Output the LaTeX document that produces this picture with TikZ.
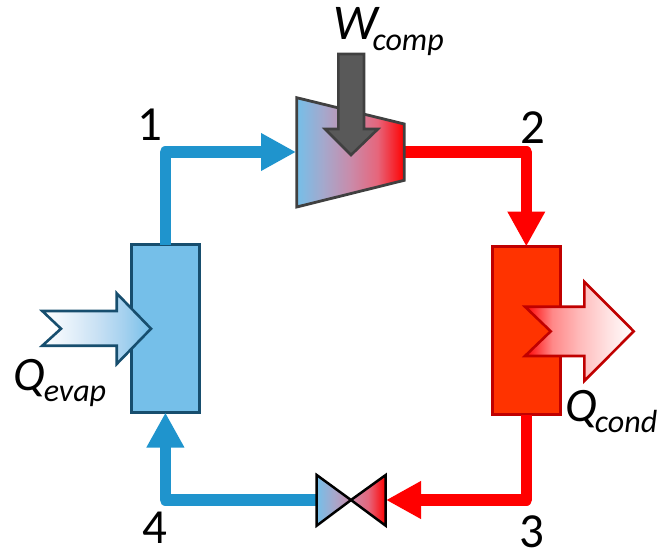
\documentclass[tikz,border=0pt]{standalone}
\usepackage{fontspec}
\setmainfont{Carlito}
\usetikzlibrary{arrows.meta}
\definecolor{pipeblue}{HTML}{1F94CD}
\definecolor{lightblue}{HTML}{75BFE9}
\definecolor{darkblue}{HTML}{174E6E}
\definecolor{condred}{HTML}{FF3300}
\definecolor{darkred}{HTML}{C00000}
\definecolor{pipered}{HTML}{FF0000}
\definecolor{workfill}{HTML}{595959}
\definecolor{workline}{HTML}{404040}
\definecolor{mixA}{HTML}{A5A8CC}
\definecolor{mixB}{HTML}{C98BAA}
\definecolor{mixC}{HTML}{E6667C}
\definecolor{coolA}{HTML}{E6F1FA}
\definecolor{coolB}{HTML}{C9E1F4}
\definecolor{coolC}{HTML}{A5D1EF}
\definecolor{hotA}{HTML}{FF8888}
\definecolor{hotB}{HTML}{FFBABA}
\definecolor{hotC}{HTML}{FFE0E0}
\pgfdeclarehorizontalshading{bluered}{100bp}{color(0bp)=(lightblue);color(25bp)=(lightblue);color(37.5bp)=(mixA);color(50bp)=(mixB);color(62.5bp)=(mixC);color(75bp)=(pipered);color(100bp)=(pipered)}
\pgfdeclarehorizontalshading{valveleft}{100bp}{color(0bp)=(lightblue);color(25bp)=(lightblue);color(50bp)=(mixA);color(75bp)=(mixB);color(100bp)=(mixB)}
\pgfdeclarehorizontalshading{valveright}{100bp}{color(0bp)=(mixB);color(25bp)=(mixB);color(50bp)=(mixC);color(75bp)=(pipered);color(100bp)=(pipered)}
\pgfdeclarehorizontalshading{coldin}{100bp}{color(0bp)=(white);color(25bp)=(white);color(37.5bp)=(coolA);color(50bp)=(coolB);color(62.5bp)=(coolC);color(75bp)=(lightblue);color(100bp)=(lightblue)}
\pgfdeclarehorizontalshading{hotout}{100bp}{color(0bp)=(pipered);color(25bp)=(pipered);color(37.5bp)=(hotA);color(50bp)=(hotB);color(62.5bp)=(hotC);color(75bp)=(white);color(100bp)=(white)}
\newcommand{\heatlabel}[4]{\itshape{\fontsize{#1}{#1}\selectfont #3}\kern#2pt\raisebox{-11pt}{\fontsize{32}{32}\selectfont #4}}
\tikzset{
  pipe/.style={line width=11.3pt,line join=round,line cap=butt},
  pipetip/.style={-{Triangle[width=35.4pt,length=35pt]}},
  hx/.style={draw,line width=2.5pt,inner sep=0pt,outer sep=0pt,minimum width=68pt,minimum height=168pt},
  heatarrow/.style={line width=2.6pt,miter limit=10,line join=miter},
  machine/.style={line width=2.8pt,line join=miter},
  biglabel/.style={inner sep=0pt,outer sep=0pt,anchor=base west},
  statenum/.style={inner sep=0pt,outer sep=0pt,anchor=base,font=\fontsize{49}{49}\selectfont}
}
\begin{document}
\begin{tikzpicture}[x=1pt,y=-1pt]
\useasboundingbox (0,0) rectangle (659,552);
% named points
\coordinate (compIn) at (296,152);
\coordinate (compOut) at (404,152);
\coordinate (valveIn) at (386,500);
\coordinate (valveOut) at (317,500);
% heat exchangers
\node[hx,draw=darkblue,fill=lightblue] (evap) at (165.4,328.5) {};
\node[hx,draw=darkred,fill=condred] (cond) at (526.3,330.5) {};
% pipes
\draw[pipe,pipeblue,pipetip] (evap.north) |- (compIn);
\draw[pipe,pipered,pipetip] (compOut) -| (cond.north);
\draw[pipe,pipered,pipetip] (cond.south) |- (valveIn);
\draw[pipe,pipeblue,pipetip] (valveOut) -| (evap.south);
% compressor
\path[shading=bluered,shading angle=0] (296.7,97.7) -- (404.3,124) -- (404.3,180.3) -- (296.7,207) -- cycle;
\draw[machine,draw=workline] (296.7,97.7) -- (404.3,124) -- (404.3,180.3) -- (296.7,207) -- cycle;
% work arrow
\draw[heatarrow,fill=workfill,draw=workline] (338.3,54) -- (364,54) -- (364,129) -- (378,129) -- (351,155) -- (325,129) -- (338.3,129) -- cycle;
% valve
\path[shading=valveleft,shading angle=0] (316.7,475) -- (351,500) -- (316.7,525.7) -- cycle;
\draw[line width=2.5pt,line join=miter,draw=black] (316.7,475) -- (351,500) -- (316.7,525.7) -- cycle;
\path[shading=valveright,shading angle=0] (385.7,475) -- (351,500) -- (385.7,525.7) -- cycle;
\draw[line width=2.5pt,line join=miter,draw=black] (385.7,475) -- (351,500) -- (385.7,525.7) -- cycle;
% heat arrows
\path[shading=coldin,shading angle=0] (42.3,311) -- (116.7,311) -- (116.7,293.3) -- (151,328.7) -- (116.7,364) -- (116.7,345.7) -- (42.3,345.7) -- (61,328.7) -- cycle;
\draw[heatarrow,draw=darkblue] (42.3,311) -- (116.7,311) -- (116.7,293.3) -- (151,328.7) -- (116.7,364) -- (116.7,345.7) -- (42.3,345.7) -- (61,328.7) -- cycle;
\path[shading=hotout,shading angle=0] (525,306.7) -- (584.3,306.7) -- (584.3,281.7) -- (633.7,331.3) -- (584.3,381) -- (584.3,356) -- (525,356) -- (550.7,331.3) -- cycle;
\draw[heatarrow,draw=darkred] (525,306.7) -- (584.3,306.7) -- (584.3,281.7) -- (633.7,331.3) -- (584.3,381) -- (584.3,356) -- (525,356) -- (550.7,331.3) -- cycle;
% labels
\node[biglabel] (wcomp) at (333,39) {\heatlabel{50}{-5}{W}{comp}};
\node[biglabel] (qevap) at (13,390) {\heatlabel{48}{-1}{Q}{evap}};
\node[biglabel] (qcond) at (565,421) {\heatlabel{48}{-2}{Q}{cond}};
\node[statenum] (n1) at (150,140) {1};
\node[statenum] (n2) at (533,143) {2};
\node[statenum] (n3) at (532,547) {3};
\node[statenum] (n4) at (155,543) {4};
\end{tikzpicture}
\end{document}
